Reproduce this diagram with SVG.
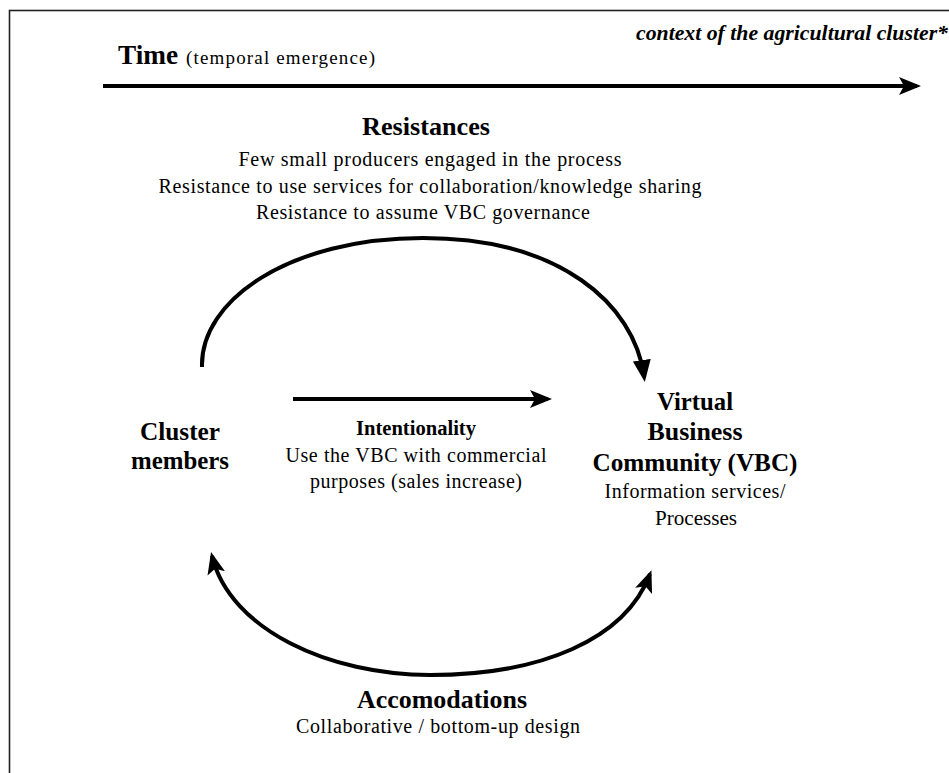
<svg xmlns="http://www.w3.org/2000/svg" width="949" height="773" viewBox="0 0 949 773">
<defs>
<style>
text{font-family:"Liberation Serif","Times New Roman",serif;fill:#000;}
.h{font-weight:bold;font-size:25px;}
.m{font-weight:bold;font-size:20px;}
.b{font-size:20px;}
.c{text-anchor:middle;}
.ln{fill:none;stroke:#000;stroke-width:4;}
</style>
<marker id="barb" markerUnits="userSpaceOnUse" viewBox="0 -10 24 20" refX="18" refY="0" markerWidth="24" markerHeight="20" orient="auto-start-reverse">
<path d="M0,-9 L22,0 L0,9 L5,0 z" fill="#000"/>
</marker>
<marker id="tri" markerUnits="userSpaceOnUse" viewBox="0 -10 24 20" refX="16" refY="0" markerWidth="24" markerHeight="20" orient="auto">
<path d="M0,-9 L22,0 L0,9 z" fill="#000"/>
</marker>
</defs>
<rect width="949" height="773" fill="#fff"/>
<rect x="9.5" y="10.5" width="960" height="800" fill="none" stroke="#222" stroke-width="1.6"/>

<g id="header">
<text x="118" y="64" style="font-weight:bold;font-size:27px" textLength="60" lengthAdjust="spacingAndGlyphs">Time</text>
<text x="186" y="64" style="font-size:19px" textLength="189" lengthAdjust="spacing">(temporal  emergence)</text>
<text x="636" y="40" style="font-weight:bold;font-style:italic;font-size:20px" textLength="312" lengthAdjust="spacingAndGlyphs">context of the agricultural cluster*</text>
</g>

<g id="connectors">
<line class="ln" x1="103" y1="86" x2="917" y2="86" marker-end="url(#barb)"/>
<path class="ln" d="M202,367 C200,300 290,238 423,238 C560,238 634,304 644,376" marker-end="url(#tri)"/>
<line class="ln" x1="293" y1="399" x2="548" y2="399" marker-end="url(#barb)"/>
<path class="ln" d="M212,556 C230,630 330,675 430,675 C540,675 625,640 650,574" marker-start="url(#barb)" marker-end="url(#barb)"/>
</g>

<g id="resistances">
<text class="h c" x="426" y="135" textLength="128" lengthAdjust="spacingAndGlyphs">Resistances</text>
<text class="b c" x="430" y="166" textLength="383" lengthAdjust="spacing">Few small  producers  engaged  in  the  process</text>
<text class="b c" x="430" y="193" textLength="543" lengthAdjust="spacing">Resistance  to use services  for  collaboration/knowledge  sharing</text>
<text class="b c" x="423" y="219" textLength="334" lengthAdjust="spacing">Resistance  to assume  VBC  governance</text>
</g>

<g id="cluster-members">
<text class="h c" x="180" y="440" textLength="80" lengthAdjust="spacingAndGlyphs">Cluster</text>
<text class="h c" x="180" y="469" textLength="98" lengthAdjust="spacingAndGlyphs">members</text>
</g>

<g id="intentionality">
<text class="m c" x="416" y="435" textLength="120" lengthAdjust="spacingAndGlyphs">Intentionality</text>
<text class="b c" x="416" y="462" textLength="261" lengthAdjust="spacing">Use the VBC with  commercial</text>
<text class="b c" x="416" y="488" textLength="212" lengthAdjust="spacing">purposes (sales increase)</text>
</g>

<g id="vbc">
<text class="h c" x="695" y="410" textLength="76" lengthAdjust="spacingAndGlyphs">Virtual</text>
<text class="h c" x="695" y="440" textLength="95" lengthAdjust="spacingAndGlyphs">Business</text>
<text class="h c" x="695" y="471" textLength="205" lengthAdjust="spacingAndGlyphs">Community (VBC)</text>
<text class="b c" x="695" y="498" textLength="181" lengthAdjust="spacing">Information  services/</text>
<text class="b c" x="696" y="525" textLength="82" lengthAdjust="spacingAndGlyphs">Processes</text>
</g>

<g id="accomodations">
<text class="h c" x="442" y="708" textLength="170" lengthAdjust="spacingAndGlyphs">Accomodations</text>
<text class="b c" x="438" y="733" textLength="284" lengthAdjust="spacing">Collaborative  / bottom-up  design</text>
</g>
</svg>
